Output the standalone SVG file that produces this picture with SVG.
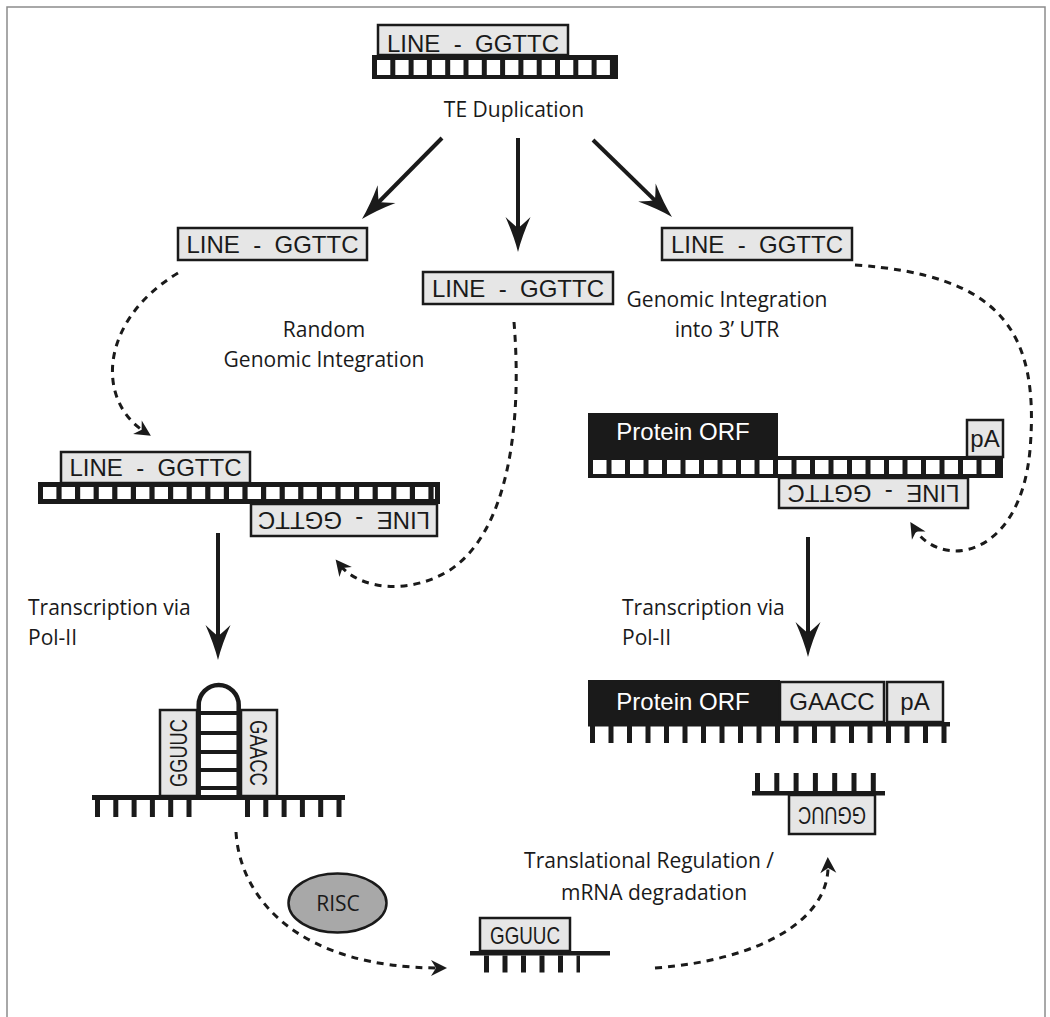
<svg xmlns="http://www.w3.org/2000/svg" width="1050" height="1017" viewBox="0 0 1050 1017">
<style>
.lbl{font-family:"Open Sans","Noto Sans",sans-serif;font-size:21px;fill:#1a1a1a}
.box{fill:#e6e6e6;stroke:#1a1a1a;stroke-width:2.5}
.bt{font-family:"Liberation Sans",Arial,sans-serif;font-size:24px;fill:#1a1a1a}
.wt{font-family:"Liberation Sans",Arial,sans-serif;font-size:24px;fill:#ffffff}
.blk{fill:#1a1a1a}
.sq{stroke:#ffffff;fill:none}
.teeth{stroke:#1a1a1a;fill:none}
.arr{fill:none;stroke:#1a1a1a;stroke-width:4}
.dash{fill:none;stroke:#1a1a1a;stroke-width:3;stroke-dasharray:7 6}
</style>
<defs>
<marker id="ah" markerUnits="userSpaceOnUse" orient="auto" refX="0" refY="0" markerWidth="60" markerHeight="60" viewBox="-30 -30 60 60" overflow="visible">
<path d="M12,0 Q-4,-4 -23,-12.5 Q-14,-3 -12,0 Q-14,3 -23,12.5 Q-4,4 12,0 Z" fill="#1a1a1a"/>
</marker>
<marker id="dh" markerUnits="userSpaceOnUse" orient="auto" refX="0" refY="0" markerWidth="30" markerHeight="30" viewBox="-15 -15 30 30" overflow="visible">
<path d="M7,0 L-9,-8 L-4,0 L-9,8 Z" fill="#1a1a1a"/>
</marker>
</defs>
<rect x="7" y="7" width="1038" height="1020" fill="#ffffff" stroke="#8c8c8c" stroke-width="1.5"/>

<g id="top-ladder">
<rect class="box" x="378" y="25" width="190" height="30"/>
<text class="bt" x="473" y="52" text-anchor="middle" xml:space="preserve">LINE  -  GGTTC</text>
<rect class="blk" x="372" y="55" width="246" height="24"/>
<line class="sq" x1="377" y1="67.5" x2="613" y2="67.5" stroke-width="15" stroke-dasharray="13.3 5"/>
<text class="lbl" x="514" y="117" text-anchor="middle">TE Duplication</text>
</g>

<g id="line-left">
<rect class="box" x="178" y="228" width="189" height="32"/>
<text class="bt" x="272.5" y="253" text-anchor="middle" xml:space="preserve">LINE  -  GGTTC</text>
</g>
<g id="line-middle">
<rect class="box" x="423" y="272" width="190" height="32"/>
<text class="bt" x="518" y="297" text-anchor="middle" xml:space="preserve">LINE  -  GGTTC</text>
</g>
<g id="line-right">
<rect class="box" x="662" y="228" width="190" height="32"/>
<text class="bt" x="757" y="253" text-anchor="middle" xml:space="preserve">LINE  -  GGTTC</text>
</g>

<g id="label-random">
<text class="lbl" x="324" y="337" text-anchor="middle">Random</text>
<text class="lbl" x="324" y="367" text-anchor="middle">Genomic Integration</text>
</g>
<g id="label-utr">
<text class="lbl" x="727" y="307" text-anchor="middle">Genomic Integration</text>
<text class="lbl" x="727" y="337" text-anchor="middle">into 3’ UTR</text>
</g>

<g id="left-ladder">
<rect class="box" x="61" y="452" width="189" height="31"/>
<text class="bt" x="155.5" y="476" text-anchor="middle" xml:space="preserve">LINE  -  GGTTC</text>
<rect class="blk" x="38" y="482" width="402" height="22"/>
<line class="sq" x1="43" y1="493" x2="435" y2="493" stroke-width="12" stroke-dasharray="13.4 5.2"/>
<rect class="box" x="251" y="504" width="186" height="32"/>
<text class="bt" x="344" y="528" text-anchor="middle" transform="rotate(180 344 520)" xml:space="preserve">LINE  -  GGTTC</text>
</g>

<g id="right-ladder">
<rect class="blk" x="588" y="413" width="190" height="45"/>
<text class="wt" x="683" y="440" text-anchor="middle">Protein ORF</text>
<rect class="box" x="967" y="420" width="36" height="37"/>
<text class="bt" x="985" y="447" text-anchor="middle">pA</text>
<rect class="blk" x="588" y="456" width="415" height="22"/>
<line class="sq" x1="593" y1="467" x2="998" y2="467" stroke-width="14" stroke-dasharray="13.5 5"/>
<rect class="box" x="779" y="478" width="189" height="30"/>
<text class="bt" x="873.5" y="501" text-anchor="middle" transform="rotate(180 873.5 493)" xml:space="preserve">LINE  -  GGTTC</text>
</g>

<g id="label-transcription-left">
<text class="lbl" x="28" y="615">Transcription via</text>
<text class="lbl" x="28" y="645">Pol-II</text>
</g>
<g id="label-transcription-right">
<text class="lbl" x="622" y="615">Transcription via</text>
<text class="lbl" x="622" y="645">Pol-II</text>
</g>

<g id="hairpin">
<rect class="box" x="160" y="710" width="37" height="86"/>
<text class="bt" x="0" y="0" font-size="24" text-anchor="middle" textLength="68" lengthAdjust="spacingAndGlyphs" transform="translate(187 753) rotate(-90)">GGUUC</text>
<rect class="box" x="241" y="710" width="36" height="86"/>
<text class="bt" x="0" y="0" font-size="24" text-anchor="middle" textLength="66" lengthAdjust="spacingAndGlyphs" transform="translate(250 753) rotate(90)">GAACC</text>
<path d="M198.7 797 L198.7 705 A20 20 0 0 1 238.7 705 L238.7 797" fill="none" stroke="#1a1a1a" stroke-width="4.5"/>
<g stroke="#1a1a1a" stroke-width="4">
<line x1="199" y1="713" x2="238" y2="713"/>
<line x1="199" y1="733" x2="238" y2="733"/>
<line x1="199" y1="752" x2="238" y2="752"/>
<line x1="199" y1="770" x2="238" y2="770"/>
<line x1="199" y1="788" x2="238" y2="788"/>
</g>
<rect class="blk" x="92" y="795" width="253" height="5"/>
<line class="teeth" x1="95" y1="808.5" x2="192" y2="808.5" stroke-width="17" stroke-dasharray="5 13.3"/>
<line class="teeth" x1="245" y1="808.5" x2="342" y2="808.5" stroke-width="17" stroke-dasharray="5 13.3"/>
</g>

<g id="mrna-right">
<rect class="blk" x="588" y="680" width="192" height="44"/>
<text class="wt" x="683" y="710" text-anchor="middle">Protein ORF</text>
<rect class="box" x="780" y="682" width="104" height="40"/>
<text class="bt" x="832" y="710" text-anchor="middle">GAACC</text>
<rect class="box" x="887" y="682" width="56" height="40"/>
<text class="bt" x="915" y="710" text-anchor="middle">pA</text>
<rect class="blk" x="588" y="722" width="362" height="4.5"/>
<line class="teeth" x1="590" y1="734.5" x2="947" y2="734.5" stroke-width="17" stroke-dasharray="5 13.5"/>
</g>

<g id="gguuc-right">
<line class="teeth" x1="755" y1="782" x2="877" y2="782" stroke-width="18" stroke-dasharray="5 14.3"/>
<rect class="blk" x="752" y="791" width="133" height="4.5"/>
<rect class="box" x="789" y="795" width="86" height="39"/>
<text class="bt" x="832" y="822" text-anchor="middle" textLength="68" lengthAdjust="spacingAndGlyphs" transform="rotate(180 832 814.5)">GGUUC</text>
</g>

<g id="risc">
<ellipse cx="337.5" cy="903" rx="49" ry="29.5" fill="#a8a8a8" stroke="#1a1a1a" stroke-width="2.5"/>
<text class="lbl" x="338" y="911" text-anchor="middle">RISC</text>
</g>

<g id="label-translational">
<text class="lbl" x="649" y="868" text-anchor="middle">Translational Regulation /</text>
<text class="lbl" x="654" y="900" text-anchor="middle">mRNA degradation</text>
</g>

<g id="gguuc-bottom">
<rect class="box" x="480" y="918" width="90" height="33"/>
<text class="bt" x="525" y="944" text-anchor="middle" textLength="70" lengthAdjust="spacingAndGlyphs">GGUUC</text>
<rect class="blk" x="470" y="951" width="140" height="4.5"/>
<line class="teeth" x1="484" y1="964" x2="580" y2="964" stroke-width="17" stroke-dasharray="5 13.5"/>
</g>

<g id="connectors">
<path class="arr" d="M442 138 L370.4 210.5" marker-end="url(#ah)"/>
<path class="arr" d="M518 138 L518 240" marker-end="url(#ah)"/>
<path class="arr" d="M593 140 L663.4 208.6" marker-end="url(#ah)"/>
<path class="arr" d="M218 533 L218 648" marker-end="url(#ah)"/>
<path class="arr" d="M808 537 L808 645" marker-end="url(#ah)"/>
<path class="dash" d="M178 273 C100 320 95 400 145 432" marker-end="url(#dh)"/>
<path class="dash" d="M514 322 C522 420 510 530 450 570 C410 595 360 590 340 565" marker-end="url(#dh)"/>
<path class="dash" d="M855 265 C1000 275 1040 330 1030 450 C1020 560 940 570 914 528" marker-end="url(#dh)"/>
<path class="dash" d="M236 832 C240 900 300 968 440 968" marker-end="url(#dh)"/>
<path class="dash" d="M655 968 C760 960 830 920 828 864" marker-end="url(#dh)"/>
</g>
</svg>
